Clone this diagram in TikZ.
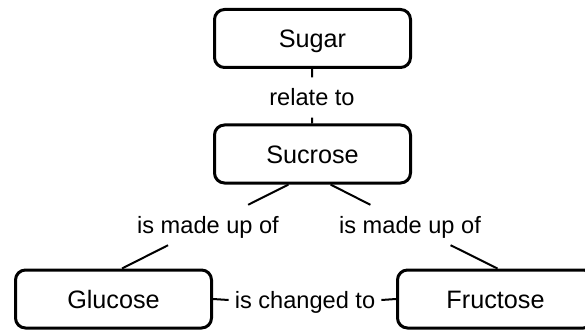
\documentclass[tikz,border=0pt]{standalone}
\usepackage{fontspec}
\setmainfont{Liberation Sans}
\usetikzlibrary{calc}
\begin{document}
\begin{tikzpicture}[x=1pt,y=-1pt,
  concept/.style={draw=black, line width=3pt, rounded corners=10pt,
    minimum width=196pt, minimum height=58pt, inner sep=0pt,
    font=\fontsize{25.2}{29}\selectfont, text height=18pt, text depth=0pt},
  linklabel/.style={inner xsep=6pt, inner ysep=11.5pt,
    font=\fontsize{23.6}{27}\selectfont, text height=17pt, text depth=0pt},
  conn/.style={draw=black, line width=2pt}]
\useasboundingbox (0,0) rectangle (585,331);
\fill[white] (0,0) rectangle (585,331);

\node[concept] (sugar) at (312.5,38.5) {Sugar};
\node[concept] (sucrose) at (312.5,154) {Sucrose};
\node[concept] (glucose) at (113.5,299) {Glucose};
\node[concept] (fructose) at (495.5,299) {Fructose};

\node[linklabel] (rel) at (312,97.5) {relate to};
\node[linklabel] (madeL) at (208,225) {is made up of};
\node[linklabel] (madeR) at (410,225) {is made up of};
\node[linklabel, inner xsep=6pt] (chg) at (305,300) {is changed to};

\coordinate (sA) at ($(sucrose.south)+(-24,0)$);
\coordinate (sB) at ($(sucrose.south)+(18,0)$);
\coordinate (gA) at ($(glucose.north)+(8.5,0)$);
\coordinate (fA) at ($(fructose.north)+(2,0)$);

\draw[conn] (sugar) -- (rel);
\draw[conn] (rel) -- (sucrose);
\draw[conn] (sA) -- (madeL);
\draw[conn] (madeL) -- (gA);
\draw[conn] (sB) -- (madeR);
\draw[conn] (madeR) -- (fA);
\draw[conn] (glucose.east) -- (chg.west);
\draw[conn] (chg.east) -- (fructose.west);
\end{tikzpicture}
\end{document}
